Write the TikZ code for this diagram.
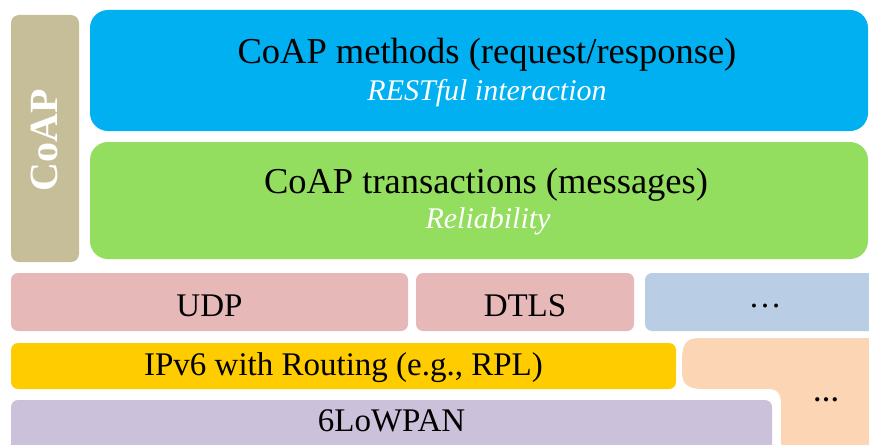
\documentclass[tikz,border=0pt]{standalone}
\usepackage{fontspec}
\setmainfont{Liberation Serif}
\definecolor{coaptan}{HTML}{C6BD99}
\definecolor{methblue}{HTML}{00B0F0}
\definecolor{transgreen}{HTML}{93DD5F}
\definecolor{udppink}{HTML}{E6B9B8}
\definecolor{otherblue}{HTML}{B9CDE5}
\definecolor{ipyellow}{HTML}{FFCC00}
\definecolor{lowlav}{HTML}{CCC1DA}
\definecolor{linkpeach}{HTML}{FCD5B5}
\tikzset{
  bigbox/.style={rounded corners=18pt},
  smallbox/.style={rounded corners=7pt},
  maintext/.style={font=\fontsize{36.5}{42}\selectfont, text=black},
  subtext/.style={font=\fontsize{30}{34}\selectfont\itshape, text=white},
  layertext/.style={font=\fontsize{33}{38}\selectfont, text=black},
}
\begin{document}
\begin{tikzpicture}[x=1pt,y=-1pt]
\useasboundingbox (0,0) rectangle (869,444);
\clip (0,0) rectangle (869,444);
% CoAP column
\fill[coaptan, rounded corners=8pt] (11,15) rectangle (79,262);
\node[rotate=90, text=white, font=\fontsize{40}{44}\selectfont\bfseries] (coap) at (44,140) {CoAP};
% CoAP sublayers
\fill[methblue, bigbox] (90,10) rectangle (868,131);
\node[maintext] (meth) at (487,55) {CoAP methods (request/response)};
\node[subtext] (rest) at (487,93) {RESTful interaction};
\fill[transgreen, bigbox] (90,142) rectangle (868,259);
\node[maintext] (trans) at (486,185) {CoAP transactions (messages)};
\node[subtext] (rel) at (488,221) {Reliability};
% transport
\fill[udppink, smallbox] (11,273) rectangle (408,331);
\node[layertext] (udp) at (209.5,306) {UDP};
\fill[udppink, smallbox] (416,273) rectangle (634,331);
\node[layertext] (dtls) at (525,306) {DTLS};
\fill[otherblue, smallbox] (645,273) rectangle (890,331);
\node[layertext] (tdots) at (765,306) {\ldots};
% network
\fill[ipyellow, smallbox] (11,343) rectangle (676,389);
\node[layertext] (ip) at (343.5,368) {IPv6 with Routing (e.g., RPL)};
\fill[lowlav, smallbox] (11,400) rectangle (772,470);
\node[layertext] (low) at (391.5,421) {6LoWPAN};
% link layer
\fill[linkpeach] (890,338) -- (700,338) .. controls (686,338) and (682,344) .. (682,360)
  -- (682,372) .. controls (682,384) and (688,389) .. (702,389)
  -- (768,389) .. controls (778,389) and (781,394) .. (781,404)
  -- (781,470) -- (890,470) -- cycle;
\node[font=\fontsize{26}{30}\selectfont\bfseries] (ldots) at (826,400) {\ldots};
\end{tikzpicture}
\end{document}
